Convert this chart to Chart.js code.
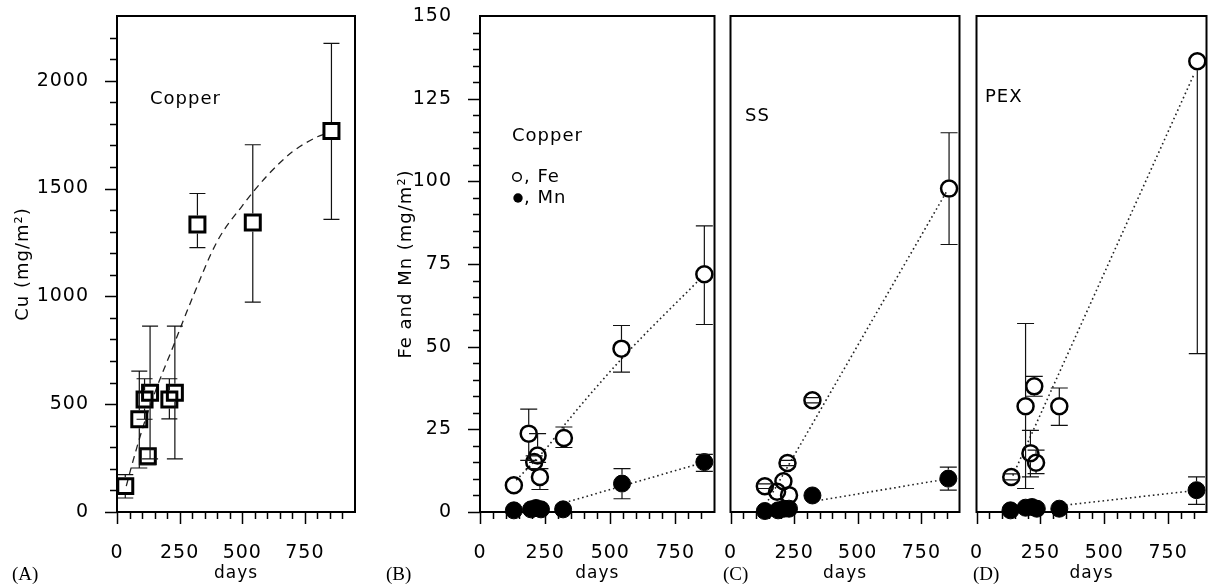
<!DOCTYPE html>
<html>
<head>
<meta charset="utf-8">
<script src="https://cdn.jsdelivr.net/npm/chart.js@4.4.1/dist/chart.umd.min.js"></script>
<style>
  body { margin: 0; background: #fff; }
  #wrap { position: relative; width: 1217px; height: 585px; overflow: hidden; background: #fff; }
  canvas { position: absolute; top: 0; }
</style>
</head>
<body>
<div id="wrap">
  <canvas id="panelA" width="370" height="585" style="left:0px"></canvas>
  <canvas id="panelB" width="355" height="585" style="left:370px"></canvas>
  <canvas id="panelC" width="250" height="585" style="left:720px"></canvas>
  <canvas id="panelD" width="251" height="585" style="left:966px"></canvas>
</div>
<script>
// tick labels
const xTickLabels = [0, 250, 500, 750];
const yTickLabelsA = [0, 500, 1000, 1500, 2000];
const yTickLabelsFeMn = [0, 25, 50, 75, 100, 125, 150];

// (A) copper pipe, Cu
const cuDays = [33, 89, 110, 132, 123, 209, 231, 321, 542, 856];
const cuValues = [120, 430, 522, 553, 258, 522, 553, 1333, 1342, 1767];
const cuLow = [65, 204, 430, 246, 220, 432, 246, 1226, 973, 1357];
const cuHigh = [173, 653, 618, 862, 290, 618, 862, 1477, 1703, 2173];
const cuFitDays = [37, 60, 100, 150, 225, 300, 400, 500, 600, 700, 800, 842];
const cuFitValues = [120, 220, 380, 550, 770, 990, 1255, 1420, 1560, 1670, 1740, 1758];

// (B) copper pipe, Fe and Mn
const feDaysB = [130, 187, 208, 221, 230, 322, 543, 861];
const feValuesB = [8.1, 23.7, 15.1, 17.1, 10.6, 22.4, 49.4, 71.9];
const feLowB = [null, 15.6, 13.1, 15.0, 6.8, 19.5, 42.3, 56.7];
const feHighB = [null, 31.1, 17.0, 23.7, 13.1, 25.7, 56.4, 86.5];
const mnDaysB = [130, 196, 215, 234, 319, 545, 861];
const mnValuesB = [0.5, 0.8, 1.2, 0.8, 0.8, 8.6, 15.1];
const mnLowB = [null, null, null, null, null, 4.0, 12.3];
const mnHighB = [null, null, null, null, null, 13.1, 17.4];
const feLineDaysB = [139, 259, 328, 556, 845];
const feLineValuesB = [9.6, 19.7, 26.7, 47.4, 70.5];
const mnLineDaysB = [290, 845];
const mnLineValuesB = [2.0, 14.7];

// (C) SS
const feDaysC = [135, 183, 208, 224, 230, 322, 859];
const feValuesC = [7.8, 6.1, 9.3, 14.8, 5.1, 33.8, 97.8];
const feLowC = [7.1, null, null, 14.0, null, 33.0, 80.9];
const feHighC = [8.5, null, null, 15.6, null, 34.6, 114.7];
const mnDaysC = [135, 187, 210, 230, 322, 856];
const mnValuesC = [0.3, 0.5, 1.0, 1.0, 5.0, 10.1];
const mnLowC = [null, null, null, null, null, 6.6];
const mnHighC = [null, null, null, null, null, 13.6];
const feLineDaysC = [148, 850];
const feLineValuesC = [3.5, 97];
const mnLineDaysC = [340, 845];
const mnLineValuesC = [3.4, 9.9];

// (D) PEX
const feDaysD = [136, 192, 226, 211, 233, 324, 864];
const feValuesD = [10.6, 32.0, 38.0, 17.8, 14.9, 32.0, 136.3];
const feLowD = [9.7, 7.1, 35.0, 10.6, 11.6, 26.2, 47.9];
const feHighD = [11.5, 57.0, 41.0, 24.7, 18.7, 37.5, null];
const mnDaysD = [133, 192, 217, 236, 324, 861];
const mnValuesD = [0.5, 1.3, 1.5, 1.0, 1.0, 6.6];
const mnLowD = [null, null, null, null, null, 2.3];
const mnHighD = [null, null, null, null, null, 10.6];
const feLineDaysD = [142, 849];
const feLineValuesD = [11, 132];
const mnLineDaysD = [350, 845];
const mnLineValuesD = [2.1, 6.4];


const FONT = "'DejaVu Sans', sans-serif";
Chart.defaults.font.family = FONT;
Chart.defaults.color = '#000';

const pts = (xs, ys) => xs.map((x, i) => ({ x, y: ys[i] }));

// fixed axis size, and no extra room for the end labels
function fixSize(s, key, size) {
    s[key] = size;
    s.paddingTop = 0;
    s.paddingBottom = 0;
    s.paddingLeft = 0;
    s.paddingRight = 0;
}

// box, tick marks, error bars and the text inside the panels
const framePlugin = {
    id: 'frame',
    beforeDraw(chart) {
        chart.ctx.letterSpacing = '1px';
    },
    afterDatasetsDraw(chart) {
        const { ctx, chartArea: a, scales: { x, y } } = chart;
        ctx.save();
        ctx.beginPath();
        ctx.rect(a.left, a.top, a.right - a.left, a.bottom - a.top);
        ctx.clip();
        ctx.strokeStyle = '#111';
        ctx.lineWidth = 1.2;
        chart.data.datasets.forEach(ds => {
            if (!ds.errLow) return;
            ds.data.forEach((p, i) => {
                const lo = ds.errLow[i], hi = ds.errHigh[i];
                const px = x.getPixelForValue(p.x);
                const py = y.getPixelForValue(p.y);
                const gap = ds.errGap, cap = ds.capWidth / 2;
                ctx.beginPath();
                if (hi != null) {
                    const pHi = y.getPixelForValue(hi);
                    if (pHi < py - gap) { ctx.moveTo(px, py - gap); ctx.lineTo(px, pHi); }
                    ctx.moveTo(px - cap, pHi); ctx.lineTo(px + cap, pHi);
                }
                if (lo != null) {
                    const pLo = y.getPixelForValue(lo);
                    if (pLo > py + gap) { ctx.moveTo(px, py + gap); ctx.lineTo(px, pLo); }
                    ctx.moveTo(px - cap, pLo); ctx.lineTo(px + cap, pLo);
                }
                ctx.stroke();
            });
        });
        ctx.restore();
    },
    afterDraw(chart, args, opts) {
        const { ctx, chartArea: a, scales: { x, y } } = chart;
        ctx.save();
        ctx.strokeStyle = '#000';
        ctx.lineWidth = 2;
        ctx.strokeRect(a.left, a.top, a.right - a.left, a.bottom - a.top);

        ctx.lineWidth = 1.5;
        ctx.beginPath();
        x.ticks.forEach(t => {
            if (t.value >= x.max) return;
            const px = Math.round(x.getPixelForValue(t.value)) + 0.5;
            const len = t.value % opts.xMajor === 0 ? 12 : 7;
            ctx.moveTo(px, a.bottom);
            ctx.lineTo(px, a.bottom + len);
        });
        if (opts.yMarks) {
            y.ticks.forEach(t => {
                if (t.value >= y.max) return;
                const py = Math.round(y.getPixelForValue(t.value)) + 0.5;
                const len = t.value % opts.yMajor === 0 ? 12 : 7;
                ctx.moveTo(a.left - len, py);
                ctx.lineTo(a.left, py);
            });
        }
        ctx.stroke();

        ctx.fillStyle = '#000';
        ctx.textBaseline = 'middle';
        ctx.letterSpacing = '1px';
        ctx.font = '18px ' + FONT;
        (opts.notes || []).forEach(n => ctx.fillText(n.text, n.x, n.y));
        (opts.marks || []).forEach(m => {
            ctx.beginPath();
            ctx.arc(m.x, m.y, m.r, 0, Math.PI * 2);
            if (m.filled) ctx.fill();
            else { ctx.lineWidth = 1.4; ctx.stroke(); }
        });

        ctx.letterSpacing = '0px';
        ctx.font = "19px 'Liberation Serif', serif";
        ctx.fillText(opts.letter, opts.letterX, 575);
        ctx.restore();
    }
};

function markerSet(xs, ys, lo, hi, style) {
    const filled = style === 'filled';
    const square = style === 'square';
    return {
        data: pts(xs, ys),
        showLine: false,
        pointStyle: square ? 'rect' : 'circle',
        pointRadius: square ? 10.6 : (filled ? 8.5 : 8),
        pointBorderWidth: square ? 3 : (filled ? 1 : 2.5),
        pointBorderColor: '#000',
        pointBackgroundColor: filled ? '#000' : 'rgba(0,0,0,0)',
        errLow: lo,
        errHigh: hi,
        errGap: 9,
        capWidth: square ? 16 : 17,
        clip: false
    };
}

function lineSet(xs, ys, dash, width) {
    return {
        data: pts(xs, ys),
        showLine: true,
        pointRadius: 0,
        borderColor: '#222',
        borderWidth: width,
        borderDash: dash,
        cubicInterpolationMode: 'monotone',
        clip: false
    };
}

function panel(id, cfg) {
    return new Chart(document.getElementById(id), {
        type: 'scatter',
        data: { datasets: cfg.datasets },
        options: {
            responsive: false,
            animation: false,
            events: [],
            layout: { padding: cfg.padding },
            plugins: {
                legend: { display: false },
                tooltip: { enabled: false },
                frame: cfg.frame
            },
            scales: {
                x: {
                    type: 'linear',
                    min: 0,
                    max: cfg.xMax,
                    grid: { display: false },
                    border: { display: false },
                    ticks: {
                        stepSize: 50,
                        autoSkip: false,
                        maxRotation: 0,
                        padding: 22,
                        font: { size: 19 },
                        callback: v => xTickLabels.includes(v) ? String(v) : ''
                    },
                    title: {
                        display: true,
                        text: 'days',
                        font: { size: 17 },
                        padding: { top: 0, bottom: 1 }
                    },
                    afterFit: s => fixSize(s, 'height', 73)
                },
                y: cfg.y
            }
        },
        plugins: [framePlugin]
    });
}

function yAxis(max, step, labels, title, titlePad, width) {
    return {
        type: 'linear',
        min: 0,
        max: max,
        grid: { display: false },
        border: { display: false },
        ticks: {
            stepSize: step,
            autoSkip: false,
            padding: 20,
            font: { size: 19 },
            callback: v => labels.includes(v) ? String(v) : ''
        },
        title: {
            display: true,
            text: title,
            font: { size: 18 },
            padding: { top: titlePad, bottom: 0 }
        },
        afterFit: s => fixSize(s, 'width', width)
    };
}

function hiddenY() {
    return { type: 'linear', min: 0, max: 150, display: false };
}

panel('panelA', {
    xMax: 950,
    padding: { top: 16, right: 15, left: 0, bottom: 0 },
    y: yAxis(2300, 100, yTickLabelsA, 'Cu (mg/m²)', 13, 117),
    datasets: [
        markerSet(cuDays, cuValues, cuLow, cuHigh, 'square'),
        lineSet(cuFitDays, cuFitValues, [7, 5], 1.3)
    ],
    frame: {
        xMajor: 250, yMajor: 500, yMarks: true,
        letter: '(A)', letterX: 12,
        notes: [{ text: 'Copper', x: 150, y: 99 }]
    }
});

panel('panelB', {
    xMax: 900,
    padding: { top: 16, right: 7, left: 0, bottom: 0 },
    y: yAxis(150, 5, yTickLabelsFeMn, 'Fe and Mn (mg/m²)', 26, 110),
    datasets: [
        markerSet(feDaysB, feValuesB, feLowB, feHighB, 'open'),
        markerSet(mnDaysB, mnValuesB, mnLowB, mnHighB, 'filled'),
        lineSet(feLineDaysB, feLineValuesB, [1.6, 3], 1.6),
        lineSet(mnLineDaysB, mnLineValuesB, [1.6, 3], 1.6)
    ],
    frame: {
        xMajor: 250, yMajor: 25, yMarks: true,
        letter: '(B)', letterX: 16,
        notes: [
            { text: 'Copper', x: 142, y: 136 },
            { text: ', Fe', x: 154, y: 177 },
            { text: ', Mn', x: 154, y: 198 }
        ],
        marks: [
            { x: 147, y: 177, r: 4.3, filled: false },
            { x: 148, y: 198, r: 4.7, filled: true }
        ]
    }
});

panel('panelC', {
    xMax: 900,
    padding: { top: 16, right: 4, left: 7.5, bottom: 0 },
    y: hiddenY(),
    datasets: [
        markerSet(feDaysC, feValuesC, feLowC, feHighC, 'open'),
        markerSet(mnDaysC, mnValuesC, mnLowC, mnHighC, 'filled'),
        lineSet(feLineDaysC, feLineValuesC, [1.6, 3], 1.6),
        lineSet(mnLineDaysC, mnLineValuesC, [1.6, 3], 1.6)
    ],
    frame: {
        xMajor: 250, yMarks: false,
        letter: '(C)', letterX: 3,
        notes: [{ text: 'SS', x: 25, y: 116 }]
    }
});

panel('panelD', {
    xMax: 900,
    padding: { top: 16, right: 4, left: 8, bottom: 0 },
    y: hiddenY(),
    datasets: [
        markerSet(feDaysD, feValuesD, feLowD, feHighD, 'open'),
        markerSet(mnDaysD, mnValuesD, mnLowD, mnHighD, 'filled'),
        lineSet(feLineDaysD, feLineValuesD, [1.6, 3], 1.6),
        lineSet(mnLineDaysD, mnLineValuesD, [1.6, 3], 1.6)
    ],
    frame: {
        xMajor: 250, yMarks: false,
        letter: '(D)', letterX: 7,
        notes: [{ text: 'PEX', x: 19, y: 97 }]
    }
});
</script>
</body>
</html>
